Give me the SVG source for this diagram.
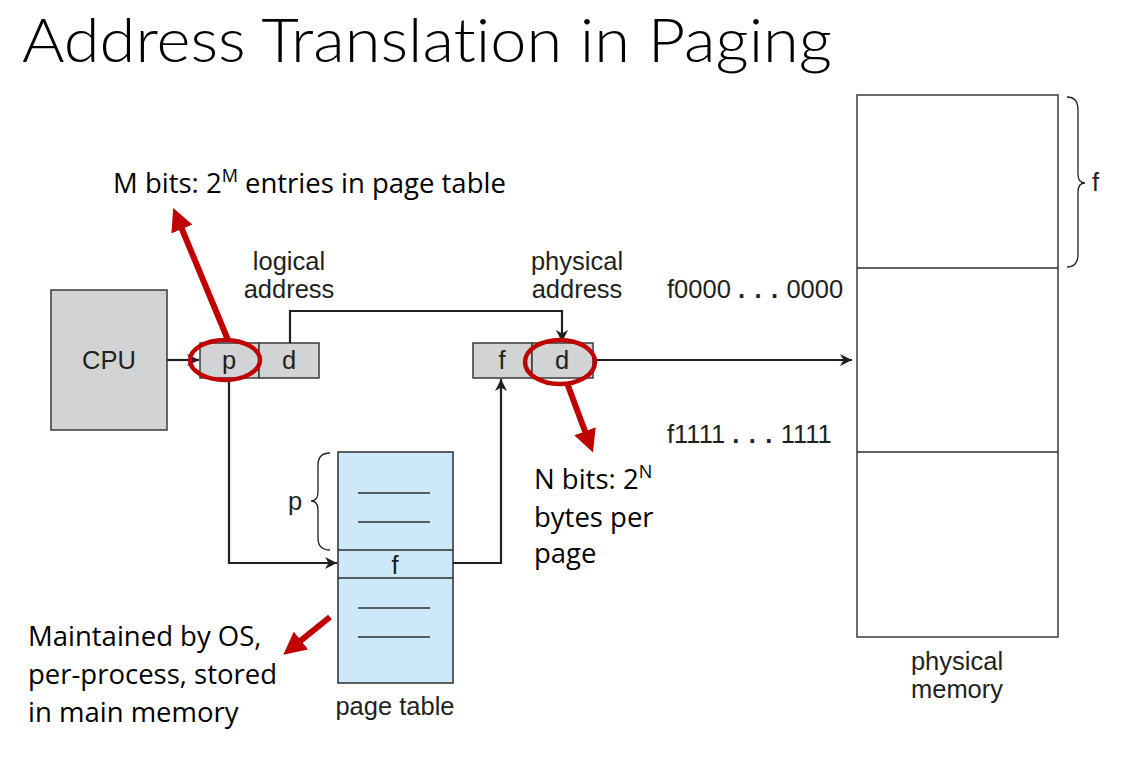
<svg xmlns="http://www.w3.org/2000/svg" width="1141" height="760" viewBox="0 0 1141 760">
  <style>
    .title { font-family: Lato, "Open Sans", sans-serif; font-weight: 300; font-size: 62px; fill: #000; font-variant-ligatures: none; }
    .note { font-family: "Open Sans", Lato, sans-serif; font-size: 27.5px; fill: #000; }
    .sup { font-size: 18px; }
    .lbl { font-family: "Liberation Sans", Arial, sans-serif; font-size: 25.5px; fill: #231f20; }
    .box { fill: #d1d3d4; stroke: #3a3a3a; stroke-width: 1.5; }
    .pt { fill: #cde8f8; stroke: #2d2d2d; stroke-width: 1.5; }
    .mem { fill: #ffffff; stroke: #3a3a3a; stroke-width: 1.5; }
    .rule { stroke: #2d2d2d; stroke-width: 1.5; }
    .wire { fill: none; stroke: #231f20; stroke-width: 2.2; }
    .brace { fill: none; stroke: #231f20; stroke-width: 1.3; }
    .ring { fill: none; stroke: #c00000; stroke-width: 4.5; }
    .red { fill: none; stroke: #c00000; stroke-width: 6; }
  </style>
  <defs>
    <marker id="ah" viewBox="0 0 10 10" refX="10" refY="5" markerWidth="5.5" markerHeight="5.5" orient="auto" markerUnits="strokeWidth">
      <path d="M0,0 L10,5 L0,10 L3,5 Z" fill="#231f20"/>
    </marker>
    <marker id="rh" viewBox="0 0 10 10" refX="0.5" refY="5" markerWidth="3.8" markerHeight="3.8" orient="auto" markerUnits="strokeWidth">
      <path d="M0,0 L10,5 L0,10 Z" fill="#c00000"/>
    </marker>
  </defs>

  <rect width="1141" height="760" fill="#ffffff"/>

  <text class="title" x="22" y="62" textLength="810" lengthAdjust="spacingAndGlyphs">Address Translation in Paging</text>

  <!-- annotations -->
  <text class="note" x="113" y="193">M bits: 2<tspan class="sup" dy="-11">M</tspan><tspan dy="11"> entries in page table</tspan></text>
  <text class="note" x="534" y="489">N bits: 2<tspan class="sup" dy="-11">N</tspan></text>
  <text class="note" x="534" y="527">bytes per</text>
  <text class="note" x="534" y="563">page</text>
  <text class="note" x="28" y="646">Maintained by OS,</text>
  <text class="note" x="28" y="684">per-process, stored</text>
  <text class="note" x="28" y="722">in main memory</text>

  <g id="cpu">
    <rect class="box" x="51" y="290" width="116" height="140"/>
    <text class="lbl" x="109" y="369" text-anchor="middle">CPU</text>
  </g>

  <g id="logical-address">
    <rect class="box" x="200" y="343" width="59" height="35"/>
    <rect class="box" x="259" y="343" width="60" height="35"/>
    <text class="lbl" x="229" y="369" text-anchor="middle">p</text>
    <text class="lbl" x="289" y="369" text-anchor="middle">d</text>
    <text class="lbl" x="289" y="270" text-anchor="middle">logical</text>
    <text class="lbl" x="289" y="298" text-anchor="middle">address</text>
  </g>

  <g id="physical-address">
    <rect class="box" x="473" y="343" width="59" height="35"/>
    <rect class="box" x="532" y="343" width="61" height="35"/>
    <text class="lbl" x="502" y="369" text-anchor="middle">f</text>
    <text class="lbl" x="562" y="369" text-anchor="middle">d</text>
    <text class="lbl" x="577" y="270" text-anchor="middle">physical</text>
    <text class="lbl" x="577" y="298" text-anchor="middle">address</text>
  </g>

  <g id="page-table">
    <rect class="pt" x="338" y="452" width="115" height="231"/>
    <line class="rule" x1="338" y1="550" x2="453" y2="550"/>
    <line class="rule" x1="338" y1="578" x2="453" y2="578"/>
    <line class="rule" x1="358" y1="493" x2="430" y2="493"/>
    <line class="rule" x1="358" y1="522" x2="430" y2="522"/>
    <line class="rule" x1="358" y1="608" x2="430" y2="608"/>
    <line class="rule" x1="358" y1="637" x2="430" y2="637"/>
    <text class="lbl" x="395" y="574" text-anchor="middle">f</text>
    <path class="brace" d="M330,453 Q318,453 318,465 L318,492 Q318,501 311,501 Q318,501 318,510 L318,538 Q318,550 330,550"/>
    <text class="lbl" x="295" y="510" text-anchor="middle">p</text>
    <text class="lbl" x="395" y="715" text-anchor="middle">page table</text>
  </g>

  <g id="physical-memory">
    <rect class="mem" x="857" y="95" width="201" height="542"/>
    <line class="rule" x1="857" y1="268" x2="1058" y2="268"/>
    <line class="rule" x1="857" y1="452" x2="1058" y2="452"/>
    <path class="brace" d="M1067,97 Q1078,97 1078,110 L1078,174 Q1078,183 1085,183 Q1078,183 1078,192 L1078,254 Q1078,267 1067,267"/>
    <text class="lbl" x="1092" y="191">f</text>
    <text class="lbl" x="667" y="298">f0000 <tspan font-weight="bold" letter-spacing="1.2">. . .</tspan> 0000</text>
    <text class="lbl" x="667" y="443">f1111 <tspan font-weight="bold" letter-spacing="1.2">. . .</tspan> 1111</text>
    <text class="lbl" x="957" y="670" text-anchor="middle">physical</text>
    <text class="lbl" x="957" y="698" text-anchor="middle">memory</text>
  </g>

  <g id="connectors">
    <line class="wire" x1="167" y1="360" x2="199" y2="360" marker-end="url(#ah)"/>
    <path class="wire" d="M290,343 L290,311 L562,311 L562,342" marker-end="url(#ah)"/>
    <line class="wire" x1="593" y1="360" x2="852" y2="360" marker-end="url(#ah)"/>
    <path class="wire" d="M229,378 L229,563 L337,563" marker-end="url(#ah)"/>
    <path class="wire" d="M453,563 L501,563 L501,379" marker-end="url(#ah)"/>
  </g>

  <g id="highlights">
    <ellipse class="ring" cx="225" cy="360" rx="35" ry="20"/>
    <ellipse class="ring" cx="560" cy="362" rx="35" ry="22"/>
    <line class="red" x1="228" y1="340" x2="181.5" y2="228" marker-end="url(#rh)"/>
    <line class="red" x1="567" y1="383" x2="585.4" y2="432.3" marker-end="url(#rh)"/>
    <line class="red" x1="330" y1="617" x2="300.1" y2="641.2" marker-end="url(#rh)"/>
  </g>
</svg>
